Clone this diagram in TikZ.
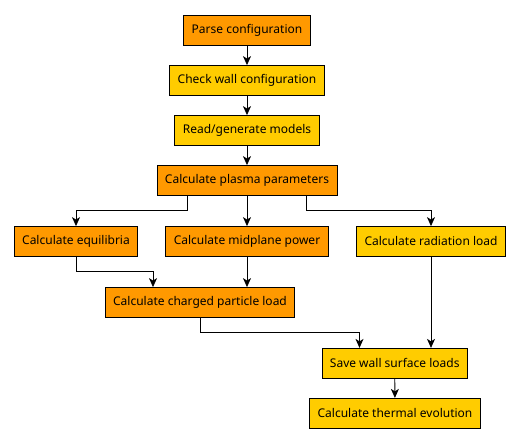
\documentclass[tikz,border=0pt]{standalone}
\usepackage{fontspec}
\setmainfont{Noto Sans}
\usetikzlibrary{arrows.meta}
\tikzset{
	stepbase/.style={draw=black, line width=0.8pt, minimum height=30pt, inner xsep=8pt, font=\fontsize{12}{14}\selectfont},
	hot/.style={stepbase, fill=orange1},
	warm/.style={stepbase, fill=yellow1},
	flow/.style={line width=0.8pt, -{Stealth[length=9pt, width=8pt, inset=2.5pt]}}
}
\definecolor{orange1}{HTML}{FF9900}
\definecolor{yellow1}{HTML}{FFCC00}

\begin{document}
\begin{tikzpicture}[x=1pt, y=-1pt]
		%%%%% START %%%%%
		\useasboundingbox (0, 0) rectangle (520, 443);
		
		\node[hot] (parse) at (247, 30.5) {Parse configuration};
		\node[warm] (check) at (247, 80.5) {Check wall configuration};
		\node[warm] (models) at (247, 130.5) {Read/generate models};
		\node[hot] (plasma) at (247, 180.5) {Calculate plasma parameters};
		
		\node[hot] (equil) at (76, 241.5) {Calculate equilibria};
		\node[hot] (midplane) at (247, 241.5) {Calculate midplane power};
		\node[warm] (radiation) at (431, 241.5) {Calculate radiation load};
		
		\node[hot] (charged) at (200, 302.5) {Calculate charged particle load};
		
		\node[warm] (save) at (394.75, 363.3) {Save wall surface loads};
		\node[warm] (thermal) at (395, 413.3) {Calculate thermal evolution};
		
		\draw[flow] (parse) -- (check);
		\draw[flow] (check) -- (models);
		\draw[flow] (models) -- (plasma);
		
		\draw[flow] ([xshift=-59.5pt]plasma.south) -- ++(0, 14.5) -| (equil.north);
		\draw[flow] (plasma) -- (midplane);
		\draw[flow] ([xshift=59.5pt]plasma.south) -- ++(0, 14.5) -| (radiation.north);
		
		\draw[flow] (equil.south) -- ++(0, 14.5) -| ([xshift=-47pt]charged.north);
		\draw[flow] (midplane.south) -- ([xshift=47pt]charged.north);
		
		\draw[flow] (charged.south) -- ++(0, 14.8) -| ([xshift=-35.25pt]save.north);
		\draw[flow] (radiation.south) -- ([xshift=36.25pt]save.north);
		
		\draw[flow] (save) -- (thermal);
		
		%%%%% END %%%%%
	\end{tikzpicture}
\end{document}
